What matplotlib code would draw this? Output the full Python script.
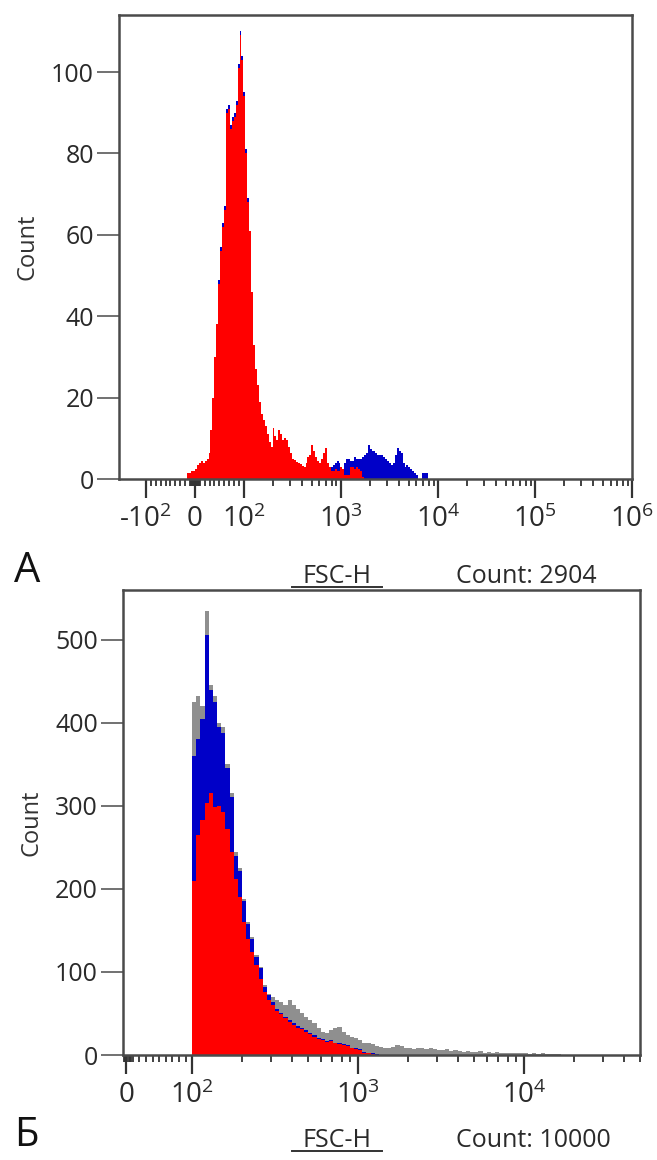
"""
Two FSC-H histograms (flow cytometry style) on a biexponential-like axis
"""

import matplotlib
matplotlib.use('Agg')
import matplotlib.pyplot as plt
import numpy as np
from matplotlib.scale import SymmetricalLogTransform
from matplotlib.lines import Line2D

plt.rcParams['font.family'] = ['Open Sans', 'DejaVu Sans']
plt.rcParams['mathtext.fontset'] = 'custom'
plt.rcParams['mathtext.rm'] = 'Open Sans'
plt.rcParams['mathtext.it'] = 'Open Sans'

# ---- panel A data: counts per channel, channel width 0.02 decade from -0.08 decade
a_red = [1.5, 1.5, 2, 2, 2.5, 3.5, 4, 4.5, 4, 4.5,
         5, 6.5, 12, 20, 30, 38, 48, 56, 62, 66,
         90, 91, 86, 88, 89, 92, 101, 109, 103, 94,
         80, 68, 61, 46, 33, 27, 23, 19, 16, 14.5,
         13, 11, 9, 8, 12.5, 10.5, 9.6, 12, 11, 9.6,
         10, 9.6, 8, 6.5, 5, 4.7, 4.3, 4, 3.8, 3.2,
         3, 4, 5.5, 6, 8.4, 7, 5.4, 4.5, 4, 5,
         6.3, 7.6, 4, 3, 2, 2, 2.5, 2, 2, 3,
         2.5, 1, 1, 1, 3, 3, 2.5, 3, 2.5, 2,
         0.5, 0, 0, 0, 0, 0, 0, 0, 0, 0,
         0, 0, 0, 0, 0, 0, 0, 0, 0, 0,
         0, 0, 0, 0, 0, 0, 0, 0, 0, 0,
         0, 0, 0, 0, 0]
a_blue = [1.5, 1.5, 2, 2, 2.5, 3.5, 4, 4.5, 4, 4.5,
          5, 6.5, 12, 20, 30, 38, 49, 57, 63, 67,
          91, 92, 87, 89, 90, 93, 102, 110, 104, 95,
          81, 69, 61, 46, 33, 27, 23, 19, 16, 14.5,
          13, 11, 9, 8, 12.5, 10.5, 9.6, 12, 11, 9.6,
          10, 9.6, 8, 6.5, 5, 4.7, 4.3, 4, 3.8, 3.2,
          3, 4, 5.5, 6, 8.4, 7, 5.4, 4.5, 4, 5,
          6.3, 7.6, 4, 3, 3, 3.5, 4, 4.5, 4, 3,
          2.5, 4, 5, 5, 4.5, 4.5, 5.5, 5, 5, 5,
          5.5, 6, 6.5, 8.4, 7.5, 7, 7, 6.5, 6, 6,
          6, 5.5, 5, 4.5, 4, 3.5, 4, 6, 7.6, 7,
          6.3, 4, 3, 3.5, 3, 2.5, 2, 1.5, 1, 0,
          0, 1.5, 1.5, 1.5, 0]
a_ticks = [-100, 0, 100, 1e3, 1e4, 1e5, 1e6]
a_ticklabels = ['-$10^2$', '0', '$10^2$', '$10^3$', '$10^4$', '$10^5$', '$10^6$']
a_yticks = [0, 20, 40, 60, 80, 100]
a_count = 2904

# ---- panel B data: channel width 0.025 decade starting at 10^2
b_red = [210, 265, 283, 303, 315, 298, 300, 292, 272, 245,
         212, 190, 160, 140, 124, 108, 92, 76, 66, 60,
         53, 49, 44, 40, 36, 33, 31, 28, 25, 22,
         19, 18, 16, 17, 14, 13, 12, 11, 8, 7,
         6, 3, 2, 1, 0, 0, 0, 0, 0, 0,
         0, 0, 0, 0, 0, 0, 0, 0, 0, 0,
         0, 0, 0, 0, 0, 0, 0, 0, 0, 0,
         0, 0, 0, 0, 0, 0, 0, 0, 0, 0,
         0, 0, 0, 0, 0, 0, 0, 0, 0]
b_blue = [360, 380, 405, 506, 440, 425, 395, 388, 345, 311,
          240, 222, 185, 158, 140, 118, 105, 82, 72, 64,
          56, 51, 46, 42, 38, 35, 33, 30, 27, 24,
          21, 19, 17, 18, 15, 14, 13, 12, 9, 8,
          7, 4, 3, 2, 1, 0, 0, 0, 0, 0,
          0, 0, 0, 0, 0, 0, 0, 0, 0, 0,
          0, 0, 0, 0, 0, 0, 0, 0, 0, 0,
          0, 0, 0, 0, 0, 0, 0, 0, 0, 0,
          0, 0, 0, 0, 0, 0, 0, 0, 0]
b_gray = [425, 432, 420, 534, 445, 432, 400, 395, 350, 315,
          245, 225, 188, 160, 142, 120, 106, 84, 74, 70,
          66, 64, 60, 66, 60, 56, 50, 46, 42, 38,
          32, 28, 26, 30, 32, 34, 28, 24, 22, 20,
          18, 15, 14, 13, 11, 10, 9, 8, 10, 12,
          11, 9, 8, 7, 9, 8, 7, 8, 7, 6,
          6, 7, 5, 6, 5, 4, 5, 4, 4, 5,
          3, 4, 3, 4, 3, 2, 3, 2, 3, 2,
          2, 1, 2, 1, 2, 1, 1, 1, 1]
b_ticks = [0, 100, 1e3, 1e4]
b_ticklabels = ['0', '$10^2$', '$10^3$', '$10^4$']
b_yticks = [0, 100, 200, 300, 400, 500]
b_count = 10000

RED = '#ff0000'
BLUE = '#0000c8'
GRAY = '#8f8f8f'
FRAME = '#4a4a4a'
TEXT = '#2a2a2a'


def channel_edges(tr, start, width, n):
    # channel edges are even steps on the display scale (units of one decade)
    disp = (start + width * np.arange(n + 1)) * tr.linthresh
    return tr.inverted().transform(disp)


def minor_ticks(lo, hi):
    ticks = [v for v in range(-90, 100, 10) if v != 0]
    ticks += [-8, -6, -4, -2, 2, 4, 6, 8]
    for dec in [1e2, 1e3, 1e4, 1e5]:
        ticks += [m * dec for m in range(2, 10)]
    return [t for t in ticks if lo <= t <= hi]


def style_axes(ax, xlim, ylim, xticks, xlabels, yticks):
    ax.set_xlim(*xlim)
    ax.set_ylim(*ylim)
    ax.set_xticks(xticks)
    ax.set_xticklabels(xlabels)
    ax.set_xticks(minor_ticks(*xlim), minor=True)
    ax.set_yticks(yticks)
    for s in ax.spines.values():
        s.set_color(FRAME)
        s.set_linewidth(1.8)
    ax.tick_params(axis='x', which='major', direction='out', length=14, width=1.6,
                   color='#333333', labelsize=20, pad=5, labelcolor=TEXT)
    ax.tick_params(axis='x', which='minor', direction='out', length=5, width=1.3,
                   color='#333333')
    ax.tick_params(axis='y', direction='out', length=16, width=1.3, color='#666666',
                   labelsize=18, pad=2, labelcolor=TEXT)
    ax.set_ylabel('Count', fontsize=17, labelpad=8, color='#333333')


fig = plt.figure(figsize=(6.57, 11.6), dpi=100)

# ---- panel A
ax1 = fig.add_axes([0.181, 0.587, 0.781, 0.400])
ax1.set_xscale('symlog', linthresh=100, linscale=0.454, base=10)
tr1 = SymmetricalLogTransform(10, 100, 0.454)
e1 = channel_edges(tr1, -0.08, 0.02, len(a_red))
ax1.stairs(a_blue, e1, fill=True, color=BLUE, lw=0)
ax1.stairs(a_red, e1, fill=True, color=RED, lw=0)
style_axes(ax1, (-190, 1e6), (0, 114), a_ticks, a_ticklabels, a_yticks)

# ---- panel B
ax2 = fig.add_axes([0.187, 0.0905, 0.787, 0.401])
ax2.set_xscale('symlog', linthresh=100, linscale=0.358, base=10)
tr2 = SymmetricalLogTransform(10, 100, 0.358)
e2 = channel_edges(tr2, 0.398, 0.025, len(b_gray))
ax2.stairs(b_gray, e2, fill=True, color=GRAY, lw=0)
ax2.stairs(b_blue, e2, fill=True, color=BLUE, lw=0)
ax2.stairs(b_red, e2, fill=True, color=RED, lw=0)
style_axes(ax2, (-5, 5e4), (0, 560), b_ticks, b_ticklabels, b_yticks)

# ---- panel letters and footers
fig.text(14 / 657, 1 - 582 / 1160, 'А', fontsize=30, ha='left', va='baseline', color='#111111')
fig.text(14 / 657, 1 - 1146 / 1160, 'Б', fontsize=29, ha='left', va='baseline', color='#111111')

for y_px, count in [(583, a_count), (1147, b_count)]:
    y = 1 - y_px / 1160
    fig.text(337 / 657, y, 'FSC-H', fontsize=18, ha='center', va='baseline', color=TEXT)
    fig.add_artist(Line2D([292 / 657, 382 / 657], [y - 4 / 1160, y - 4 / 1160],
                          color='#333333', lw=1.4))
    fig.text(456 / 657, y, 'Count: %d' % count, fontsize=18, ha='left', va='baseline',
             color=TEXT)

fig.savefig('out.png', dpi=100)
